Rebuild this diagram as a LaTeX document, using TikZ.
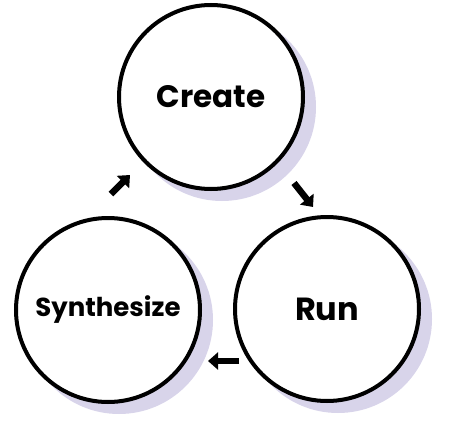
\documentclass[tikz,border=0pt]{standalone}
\usepackage{fontspec}
\setsansfont{Poppins}
\usepackage{xcolor}
\usepackage{tikz}
\usetikzlibrary{positioning,arrows.meta}
\definecolor{shadowlav}{RGB}{216,212,234}

\begin{document}
\begin{tikzpicture}[x=1pt,y=-1pt,
  every node/.style={font=\sffamily\bfseries},
  stagenode/.style={circle,draw,line width=4pt,fill=white,minimum size=184pt,inner sep=0pt},
  shadownode/.style={circle,fill=shadowlav,minimum size=188pt,inner sep=0pt},
  flow/.style={line width=6.5pt,-{Triangle[length=10pt,width=17pt]}}]
  \useasboundingbox (0,0) rectangle (468,420);
  % shadows first
  \node[shadownode] (Cs) at (222,107) {};
  \node[shadownode] (Ss) at (119,320) {};
  \node[shadownode] (Rs) at (338,319) {};
  % the three stages
  \node[stagenode,font=\sffamily\bfseries\fontsize{31}{31}\selectfont] (C) at (211,97) {Create};
  \node[stagenode,font=\sffamily\bfseries\fontsize{26}{26}\selectfont] (S) at (108,310) {Synthesize};
  \node[stagenode,font=\sffamily\bfseries\fontsize{32}{32}\selectfont] (R) at (327,309) {Run};
  % arrows
  \coordinate (c2r1) at (294,183);
  \coordinate (c2r2) at (313,207);
  \coordinate (r2s1) at (239,361);
  \coordinate (r2s2) at (208,361);
  \coordinate (s2c1) at (111,194);
  \coordinate (s2c2) at (130,175);
  \draw[flow] (c2r1) -- (c2r2);
  \draw[flow] (r2s1) -- (r2s2);
  \draw[flow] (s2c1) -- (s2c2);
\end{tikzpicture}
\end{document}
